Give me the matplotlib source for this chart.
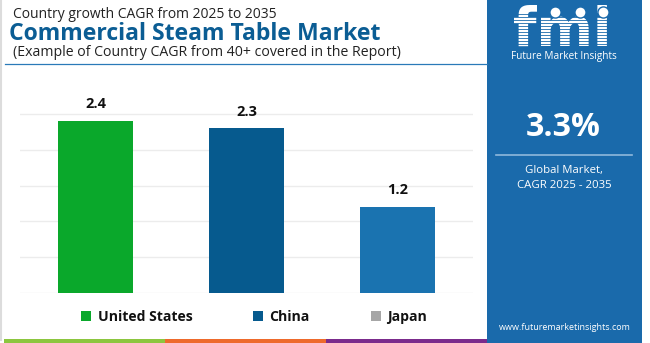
import matplotlib
matplotlib.use("Agg")
import matplotlib.pyplot as plt
from matplotlib.patches import Rectangle, Patch
from matplotlib.lines import Line2D

countries = ["United States", "China", "Japan"]
cagr = [2.4, 2.3, 1.2]
bar_colors = ["#0aa82b", "#065a8e", "#1a73b0"]
legend_colors = ["#0aa82b", "#065a8e", "#a6a6a6"]
value_labels = ["2.4", "2.3", "1.2"]
global_cagr = "3.3%"

W, H = 650, 343
fig = plt.figure(figsize=(W / 100, H / 100), dpi=100)
fig.patch.set_facecolor("white")

def fx(px):
    return px / W

def fy(py):
    return 1 - py / H

FONT = "Open Sans"

# left border
fig.add_artist(Line2D([fx(1), fx(1)], [fy(0), fy(340)], color="#dcdcdc", lw=1.5))

# titles
fig.text(fx(13), fy(15), "Country growth CAGR from 2025 to 2035", fontsize=10.0,
         family=FONT, color="#222222", va="center", ha="left")
fig.text(fx(9), fy(34), "Commercial Steam Table Market", fontsize=16.6,
         family=FONT, weight="bold", color="#0b5d94", va="center", ha="left")
fig.text(fx(13), fy(53), "(Example of Country CAGR from 40+ covered in the Report)", fontsize=10.2,
         family=FONT, color="#222222", va="center", ha="left")
fig.add_artist(Line2D([fx(5), fx(487)], [fy(64), fy(64)], color="#2a7ab8", lw=0.9))

# chart
ax = fig.add_axes([fx(20), fy(293), fx(473) - fx(20), fy(96) - fy(293)])
x = list(range(len(countries)))
bars = ax.bar(x, cagr, width=0.5, color=bar_colors, zorder=3)
ax.set_xlim(-0.5, 2.5)
ax.set_ylim(0, 2.75)
ax.set_yticks([0, 0.5, 1.0, 1.5, 2.0, 2.5])
ax.yaxis.grid(True, color="#ececec", lw=1, zorder=0)
ax.tick_params(left=False, bottom=False, labelleft=False, labelbottom=False)
for s in ax.spines.values():
    s.set_visible(False)
for b, lab in zip(bars, value_labels):
    ax.annotate(lab, (b.get_x() + b.get_width() / 2, b.get_height()),
                xytext=(0, 7), textcoords="offset points", ha="center", va="bottom",
                fontsize=10.5, weight="bold", family=FONT, color="#111111")

handles = [Patch(facecolor=c, edgecolor="none") for c in legend_colors]
leg = fig.legend(handles, countries, loc="center", bbox_to_anchor=(fx(254), fy(317)),
                 ncol=3, frameon=False, handlelength=0.7, handleheight=0.7,
                 handletextpad=0.45, columnspacing=4.35,
                 prop={"family": FONT, "weight": "bold", "size": 10.1})
for t in leg.get_texts():
    t.set_color("#111111")

# bottom stripes
stripe = [(4, 165, "#8cc63f"), (165, 326, "#ee6a2c"), (326, 487, "#7b2b8c")]
for x0, x1, c in stripe:
    fig.add_artist(Rectangle((fx(x0), 0), fx(x1) - fx(x0), fy(339) - 0,
                             transform=fig.transFigure, color=c, lw=0))

# right panel
panel_c = "#1a6aab"
fig.add_artist(Rectangle((fx(487), 0), fx(642) - fx(487), 1, transform=fig.transFigure,
                         color=panel_c, lw=0, zorder=1))
cx = fx(564)
fig.text(fx(562), fy(46), "fmi", fontsize=39, family="DejaVu Sans", weight="bold",
         color="white", ha="center", va="baseline", zorder=3)
for yy in range(14, 48, 3):
    fig.add_artist(Line2D([fx(505), fx(620)], [fy(yy), fy(yy)], color=panel_c, lw=0.6, zorder=4))
for cxx in (555, 580, 603):
    fig.add_artist(Line2D([fx(cxx)], [fy(12)], marker="o", markersize=8,
                          color="white", markeredgecolor=panel_c, markeredgewidth=1.0,
                          zorder=5))
fig.text(cx, fy(57), "Future Market Insights", fontsize=7.2, family=FONT,
         color="white", ha="center", va="center", zorder=5)
fig.text(fx(563), fy(128), global_cagr, fontsize=23, family=FONT, weight="bold",
         color="white", ha="center", va="center", zorder=5)
fig.add_artist(Line2D([fx(496), fx(632)], [fy(155), fy(155)], color="#8fb9dc", lw=1.2, zorder=5))
fig.text(cx, fy(171), "Global Market,", fontsize=8.2, family=FONT,
         color="white", ha="center", va="center", zorder=5)
fig.text(cx, fy(185), "CAGR 2025 - 2035", fontsize=8.2, family=FONT,
         color="white", ha="center", va="center", zorder=5)
fig.text(fx(565), fy(328), "www.futuremarketinsights.com", fontsize=6.5, family=FONT,
         color="white", ha="center", va="center", zorder=5)

fig.savefig("out.png", dpi=100, facecolor="white")
